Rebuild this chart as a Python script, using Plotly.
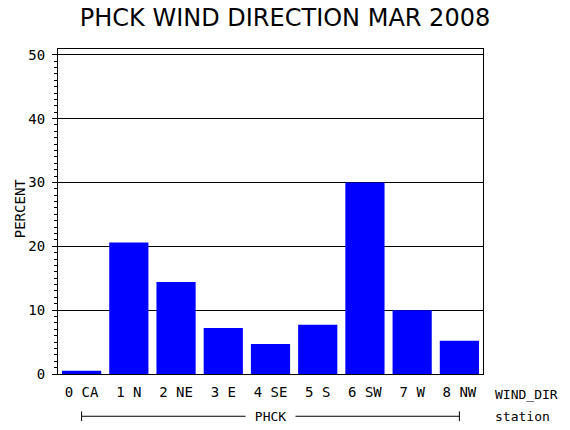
import plotly.graph_objects as go

# wind direction frequency for station PHCK, March 2008
categories = ["0 CA", "1 N", "2 NE", "3 E", "4 SE", "5 S", "6 SW", "7 W", "8 NW"]
percent = [0.5, 20.6, 14.4, 7.2, 4.7, 7.7, 30.0, 10.0, 5.2]
y_ticks = [0, 10, 20, 30, 40, 50]
station = "PHCK"

mono = "DejaVu Sans Mono"
label_font = dict(family=mono, size=14, color="black")
small_font = dict(family=mono, size=13, color="black")

fig = go.Figure(go.Bar(
    x=list(range(len(categories))), y=percent,
    marker=dict(color="#0000ff", line=dict(width=0)),
    hoverinfo="y",
))

# station bracket under the category labels
last = len(categories) - 1
bracket_y = -0.13
fig.add_shape(type="line", xref="x", yref="paper",
              x0=0, x1=last, y0=bracket_y, y1=bracket_y,
              line=dict(color="black", width=1))
for end in (0, last):
    fig.add_shape(type="line", xref="x", yref="paper",
                  x0=end, x1=end, y0=bracket_y + 0.015, y1=bracket_y - 0.015,
                  line=dict(color="black", width=1))

fig.add_annotation(text="\u00a0" + station + "\u00a0", xref="x", yref="paper",
                   x=last / 2, y=bracket_y, xanchor="center", yanchor="middle",
                   showarrow=False, bgcolor="white", borderpad=1, font=small_font)
fig.add_annotation(text="WIND_DIR", xref="paper", yref="paper", x=1, y=0,
                   xshift=10, yshift=-20, xanchor="left", yanchor="middle",
                   showarrow=False, font=small_font)
fig.add_annotation(text="station", xref="paper", yref="paper", x=1, y=0,
                   xshift=10, yshift=-42, xanchor="left", yanchor="middle",
                   showarrow=False, font=small_font)
fig.add_annotation(text="PERCENT", xref="paper", yref="paper", x=0, y=0.51,
                   xshift=-38, textangle=-90, xanchor="center", yanchor="middle",
                   showarrow=False, font=label_font)

# page body has an 8px margin, so the figure is sized to fit inside it
fig.update_layout(
    width=554, height=414,
    margin=dict(l=50, r=79, t=41, b=48),
    paper_bgcolor="white", plot_bgcolor="white",
    showlegend=False,
    bargap=0.17,
    title=dict(text="PHCK WIND DIRECTION MAR 2008", x=0.5, xanchor="center",
               y=0.976, yanchor="middle",
               font=dict(family="DejaVu Sans", size=24, color="black")),
    xaxis=dict(
        range=[-0.5, len(categories) - 0.5],
        tickmode="array", tickvals=list(range(len(categories))), ticktext=categories,
        ticks="", showgrid=False, zeroline=False,
        showline=True, linecolor="black", linewidth=1, mirror=True,
        tickfont=label_font,
        ticklabelstandoff=5,
    ),
    yaxis=dict(
        range=[0, 50.9],
        tickmode="array", tickvals=y_ticks,
        ticks="outside", ticklen=5, tickcolor="black",
        showgrid=True, gridcolor="black", gridwidth=1, zeroline=False,
        showline=True, linecolor="black", linewidth=1, mirror=True,
        tickfont=label_font,
        ticklabelstandoff=4,
        minor=dict(dtick=1, ticks="outside", ticklen=3, tickcolor="black", showgrid=False),
    ),
)

fig.write_html("out.html")
